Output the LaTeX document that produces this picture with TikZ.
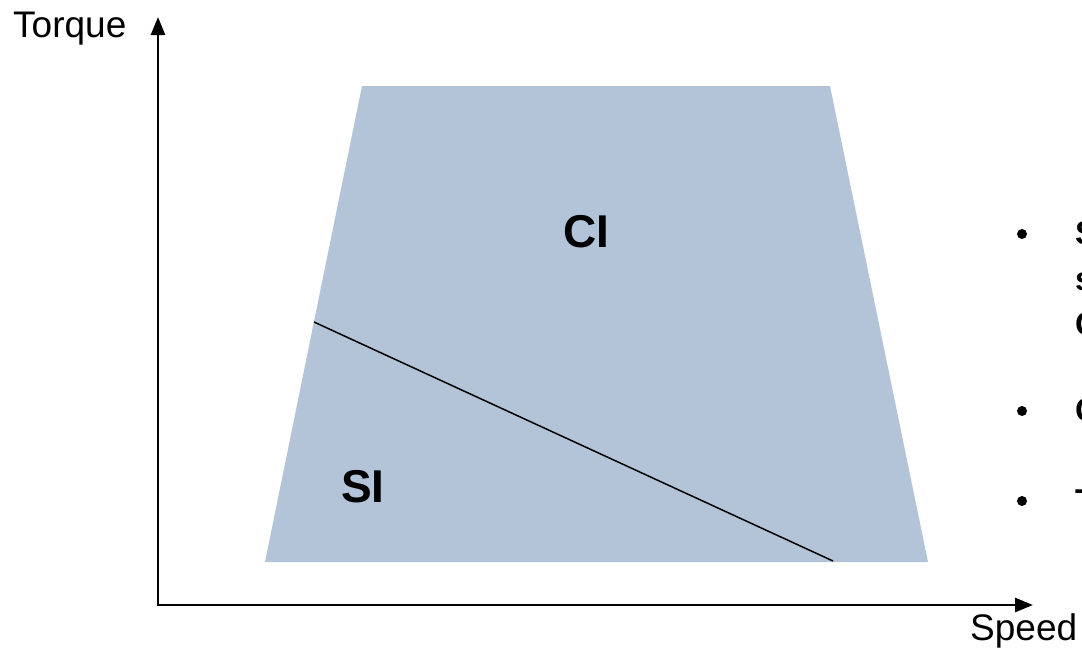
\documentclass[tikz,border=0pt]{standalone}
\usepackage{fontspec}
\setmainfont{Liberation Sans}
\usetikzlibrary{arrows.meta}
\definecolor{regionfill}{RGB}{179,196,216}
\begin{document}
\begin{tikzpicture}[x=1pt,y=-1pt,
  axis/.style={line width=2.6pt,-{Triangle[width=14pt,length=18pt]}},
  axislabel/.style={inner sep=0pt,anchor=base west,font=\fontsize{37}{42}\selectfont},
  regionlabel/.style={inner sep=0pt,font=\fontsize{46}{50}\selectfont\bfseries},
  bullettext/.style={inner sep=0pt,anchor=base west,font=\fontsize{33}{38}\selectfont\bfseries},
  bulletdot/.style={circle,fill=black,inner sep=0pt,minimum size=10pt}]
\useasboundingbox (0,0) rectangle (1082,648);
\clip (0,0) rectangle (1082,648);
% region
\coordinate (tl) at (362,86);
\coordinate (tr) at (830,86);
\coordinate (br) at (928,562);
\coordinate (bl) at (265,562);
\fill[regionfill] (tl) -- (tr) -- (br) -- (bl) -- cycle;
% boundary line
\coordinate (la) at (314,322);
\coordinate (lb) at (833,561);
\draw[line width=1.5pt] (la) -- (lb);
% axes
\coordinate (o) at (158,605);
\coordinate (ytip) at (158,17);
\coordinate (xtip) at (1033,605);
\draw[axis] (o) -- (ytip);
\draw[axis] ([xshift=-1.3pt]o) -- (xtip);
\node[axislabel] (torque) at (13,37) {Torque};
\node[axislabel] (speed) at (970,640) {Speed};
% labels
\node[regionlabel] (ci) at (586,232) {CI};
\node[regionlabel] (si) at (363,487) {SI};
% bullets (cut off at right edge, as in the reference)
\node[bulletdot] (b1) at (1022,234) {};
\node[bulletdot] (b2) at (1022,411) {};
\node[bulletdot] (b3) at (1022,501) {};
\node[bullettext] (t1) at (1075,244) {S};
\node[bullettext] (t1b) at (1075,290) {s};
\node[bullettext] (t1c) at (1075,335) {C};
\node[bullettext] (t2) at (1075,421) {C};
\node[bullettext] (t3) at (1075,512) {T};
\end{tikzpicture}
\end{document}
